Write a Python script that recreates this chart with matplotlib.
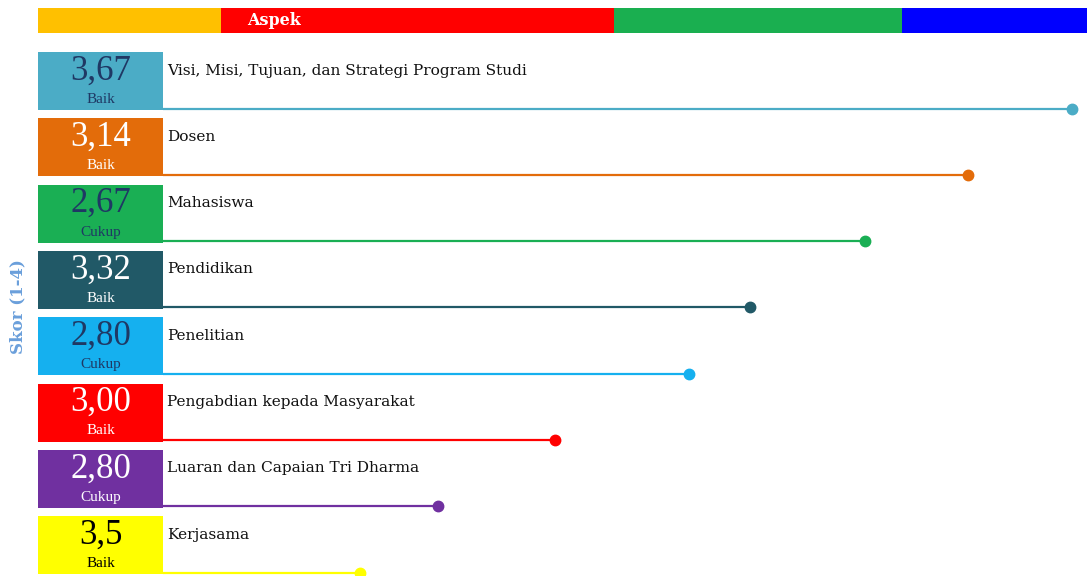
import matplotlib
matplotlib.use("Agg")
import matplotlib.pyplot as plt
from matplotlib.patches import Rectangle

# ---- data ----
aspects = ["Visi, Misi, Tujuan, dan Strategi Program Studi", "Dosen", "Mahasiswa",
           "Pendidikan", "Penelitian", "Pengabdian kepada Masyarakat",
           "Luaran dan Capaian Tri Dharma", "Kerjasama"]
scores = ["3,67", "3,14", "2,67", "3,32", "2,80", "3,00", "2,80", "3,5"]
grades = ["Baik", "Baik", "Cukup", "Baik", "Cukup", "Baik", "Cukup", "Baik"]
lengths = [98.4, 87.1, 76.0, 63.5, 56.9, 42.4, 29.8, 21.3]  # lollipop length (% of track)
row_colors = ["#4BACC6", "#E36C0A", "#1AAF54", "#215967", "#15B0EF", "#FF0000", "#7030A0", "#FFFF00"]
text_colors = ["#1F3864", "#FFFFFF", "#1F3864", "#FFFFFF", "#1F3864", "#FFFFFF", "#FFFFFF", "#000000"]
header_widths = [183, 393, 288, 185]
header_colors = ["#FFC000", "#FF0000", "#1AAF50", "#0000FF"]
header_title = "Aspek"
ylabel = "Skor (1-4)"

W, H = 1087, 576
fig = plt.figure(figsize=(W / 100, H / 100), dpi=100)
ax = fig.add_axes([0, 0, 1, 1])
ax.set_xlim(0, W)
ax.set_ylim(H, 0)
ax.axis("off")

FONT = "Liberation Serif"
FONT2 = "DejaVu Serif"

# header bar
x0 = 38
left = x0
for w, c in zip(header_widths, header_colors):
    ax.add_patch(Rectangle((left, 8), w, 25, color=c, lw=0))
    left += w
ax.text(247, 20.5, header_title, color="white", fontsize=11.5, fontweight="bold",
        family=FONT2, va="center", ha="left")

# rows
box_l, box_r = 38, 163
track = W - box_r
pitch = 66.3
for i, (name, sc, gr, ln, c, tc) in enumerate(zip(aspects, scores, grades, lengths, row_colors, text_colors)):
    top = 52 + pitch * i
    ax.add_patch(Rectangle((box_l, top), box_r - box_l, 58, color=c, lw=0))
    ax.text((box_l + box_r) / 2, top + 19, sc, color=tc, fontsize=25, family=FONT,
            ha="center", va="center")
    ax.text((box_l + box_r) / 2, top + 47.5, gr, color=tc, fontsize=11, family=FONT,
            ha="center", va="center")
    ax.text(167, top + 18.5, name, color="#111111", fontsize=11.1, family=FONT2,
            ha="left", va="center")
    ly = top + 56.5
    xe = box_r + ln / 100 * track
    ax.plot([box_r, xe], [ly, ly], color=c, lw=1.6, solid_capstyle="butt")
    ax.plot([xe], [ly], "o", color=c, ms=7.5, mec=c)

ax.text(18, 307, ylabel, rotation=90, color="#6A9FDB", fontsize=12, fontweight="bold",
        family=FONT2, ha="center", va="center")

fig.savefig("out.png", dpi=100)
